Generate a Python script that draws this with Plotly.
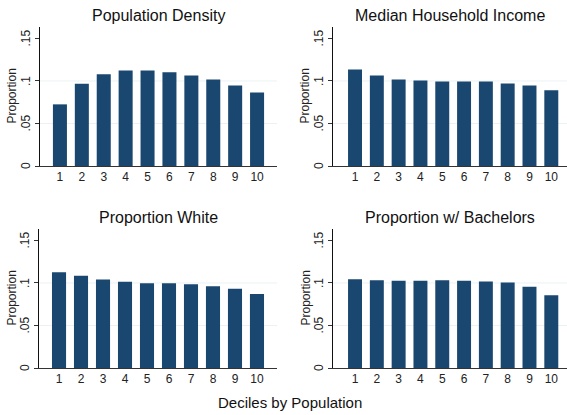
import plotly.graph_objects as go

deciles = [1, 2, 3, 4, 5, 6, 7, 8, 9, 10]
tick_labels = ["1", "2", "3", "4", "5", "6", "7", "8", "9", "10"]
pop_density = [0.0725, 0.0967, 0.1080, 0.1123, 0.1123, 0.1104, 0.1065, 0.1018, 0.0947, 0.0865]
median_income = [0.1135, 0.1065, 0.1018, 0.1006, 0.0994, 0.0994, 0.0994, 0.0971, 0.0947, 0.0892]
prop_white = [0.1127, 0.1084, 0.1041, 0.1014, 0.0998, 0.0998, 0.0986, 0.0963, 0.0931, 0.0869]
prop_bachelors = [0.1045, 0.1033, 0.1025, 0.1025, 0.1033, 0.1025, 0.1018, 0.1006, 0.0955, 0.0857]
titles = ["Population Density", "Median Household Income", "Proportion White", "Proportion w/ Bachelors"]
y_ticks = [0, 0.05, 0.1, 0.15]
y_tick_text = ["0", ".05", ".1", ".15"]

W, H = 567, 415
BAR = "#1a476f"
FONT = "Liberation Sans, Arial, sans-serif"

panels = [
    # (values, x px left, x px right, y px top, y px bottom, x range)
    (pop_density, 40, 277, 27, 166, [0.09, 10.91]),
    (median_income, 333, 567, 27, 166, [-0.01, 10.72]),
    (prop_white, 39, 277, 229, 368, [0.09, 10.91]),
    (prop_bachelors, 333, 567, 229, 368, [-0.01, 10.72]),
]

fig = go.Figure()
layout = {}
annotations = []
for i, (vals, xl, xr, yt, yb, xrng) in enumerate(panels):
    n = "" if i == 0 else str(i + 1)
    fig.add_trace(go.Bar(
        x=deciles, y=vals, width=0.64,
        marker=dict(color=BAR, line=dict(width=0)),
        xaxis="x" + n, yaxis="y" + n, showlegend=False,
    ))
    layout["xaxis" + n] = dict(
        domain=[xl / W, xr / W], range=xrng, anchor="y" + n,
        tickvals=deciles, ticktext=tick_labels, ticks="",
        showline=True, linecolor="#333333", linewidth=1,
        showgrid=False, zeroline=False,
        tickfont=dict(size=12, color="#222222", family=FONT),
        fixedrange=True,
    )
    layout["yaxis" + n] = dict(
        domain=[1 - yb / H, 1 - yt / H], range=[0, 0.1635], anchor="x" + n,
        tickvals=y_ticks, showticklabels=False,
        ticks="outside", ticklen=4, tickcolor="#333333",
        showline=True, linecolor="#111111", linewidth=1,
        showgrid=False, zeroline=False,
    )
    for gv in [0.05, 0.1]:
        fig.add_shape(type="line", xref="x" + n + " domain", yref="y" + n,
                      x0=0, x1=1, y0=gv, y1=gv,
                      line=dict(color="#eaf2f3", width=1), layer="below")
    for tv, tt in zip(y_ticks, y_tick_text):
        annotations.append(dict(
            text=tt, x=(xl - 14) / W, y=tv, textangle=-90,
            xref="paper", yref="y" + n, showarrow=False,
            xanchor="center", yanchor="middle",
            font=dict(size=12, color="#222222", family=FONT),
        ))
    annotations.append(dict(
        text=titles[i], x=(xl + min(xr, xl + 240)) / 2 / W, y=1 - (yt - 12) / H,
        xref="paper", yref="paper", showarrow=False, xanchor="center", yanchor="middle",
        font=dict(size=16, color="#111111", family=FONT),
    ))
    annotations.append(dict(
        text="Proportion", x=(xl - 28) / W, y=1 - (yt + yb) / 2 / H, textangle=-90,
        xref="paper", yref="paper", showarrow=False, xanchor="center", yanchor="middle",
        font=dict(size=12, color="#222222", family=FONT),
    ))

annotations.append(dict(
    text="Deciles by Population", x=290 / W, y=1 - 402 / H,
    xref="paper", yref="paper", showarrow=False, xanchor="center", yanchor="middle",
    font=dict(size=15, color="#111111", family=FONT),
))

fig.update_layout(
    width=W, height=H, margin=dict(l=0, r=0, t=0, b=0),
    paper_bgcolor="white", plot_bgcolor="white",
    bargap=0.3, annotations=annotations, **layout,
)
fig.write_html("out.html", config={"displayModeBar": False},
               post_script="document.body.style.margin='0';document.body.style.overflow='hidden';")
